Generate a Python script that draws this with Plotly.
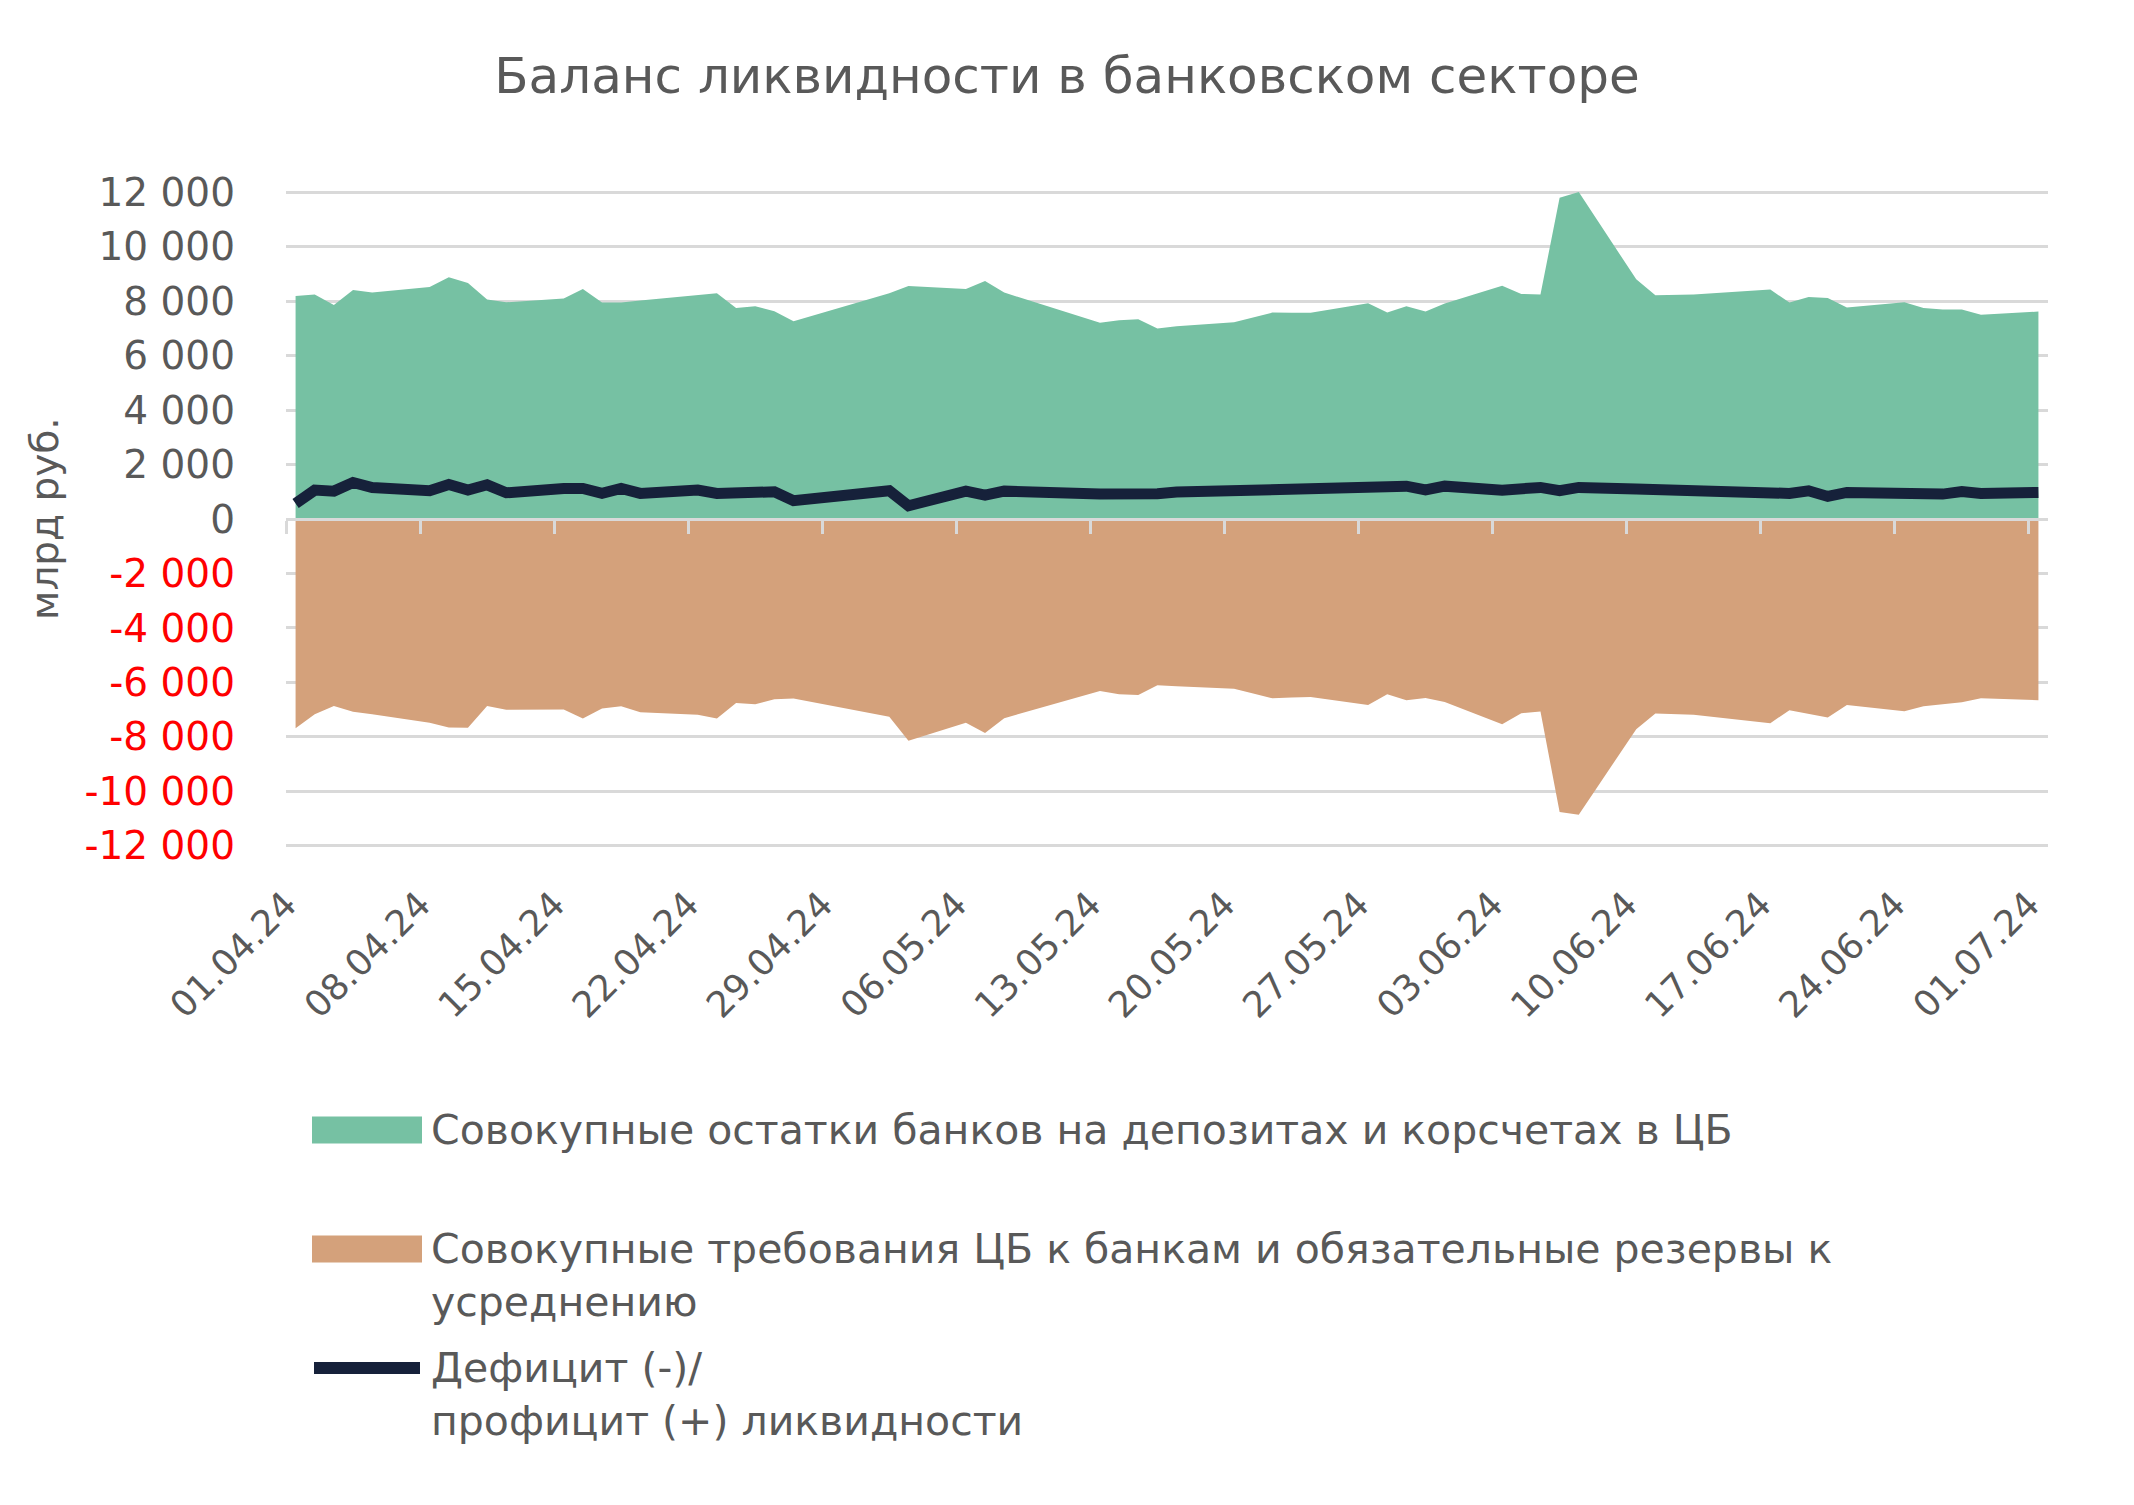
import pandas as pd
import plotly.graph_objects as go

# business days (27.04 was a working Saturday)
dates = [
    "2024-04-01", "2024-04-02", "2024-04-03", "2024-04-04", "2024-04-05",
    "2024-04-08", "2024-04-09", "2024-04-10", "2024-04-11", "2024-04-12",
    "2024-04-15", "2024-04-16", "2024-04-17", "2024-04-18", "2024-04-19",
    "2024-04-22", "2024-04-23", "2024-04-24", "2024-04-25", "2024-04-26", "2024-04-27",
    "2024-05-02", "2024-05-03", "2024-05-06", "2024-05-07", "2024-05-08",
    "2024-05-13", "2024-05-14", "2024-05-15", "2024-05-16", "2024-05-17",
    "2024-05-20", "2024-05-21", "2024-05-22", "2024-05-23", "2024-05-24",
    "2024-05-27", "2024-05-28", "2024-05-29", "2024-05-30", "2024-05-31",
    "2024-06-03", "2024-06-04", "2024-06-05", "2024-06-06", "2024-06-07",
    "2024-06-10", "2024-06-11", "2024-06-13", "2024-06-14",
    "2024-06-17", "2024-06-18", "2024-06-19", "2024-06-20", "2024-06-21",
    "2024-06-24", "2024-06-25", "2024-06-26", "2024-06-27", "2024-06-28",
    "2024-07-01",
]

# Совокупные остатки банков на депозитах и корсчетах в ЦБ, млрд руб.
balances = [
    8195, 8244, 7866, 8415, 8317,
    8524, 8878, 8671, 8061, 7963,
    8098, 8451, 7951, 7951, 8024,
    8220, 8293, 7756, 7817, 7634, 7268,
    8293, 8561, 8451, 8744, 8317,
    7207, 7305, 7341, 7000, 7085,
    7232, 7400, 7585, 7580, 7573,
    7927, 7585, 7817, 7622, 7915,
    8573, 8268, 8244, 11805, 12012,
    8805, 8220, 8244, 8290,
    8427, 7951, 8159, 8122, 7768,
    7963, 7756, 7695, 7695, 7500,
    7622,
]

# Совокупные требования ЦБ к банкам и обязательные резервы к усреднению
claims = [
    -7683, -7171, -6866, -7085, -7171,
    -7488, -7659, -7671, -6866, -7012,
    -7000, -7329, -6963, -6878, -7098,
    -7195, -7329, -6756, -6805, -6622, -6598,
    -7268, -8146, -7488, -7866, -7317,
    -6317, -6439, -6463, -6110, -6140,
    -6232, -6409, -6585, -6561, -6537,
    -6829, -6439, -6659, -6573, -6720,
    -7537, -7134, -7073, -10768, -10866,
    -7720, -7146, -7195, -7268,
    -7500, -7024, -7159, -7293, -6829,
    -7061, -6878, -6805, -6732, -6585,
    -6659,
]

# Дефицит (-)/профицит (+) ликвидности
surplus = [
    573, 1061, 1024, 1341, 1159,
    1037, 1268, 1061, 1256, 963,
    1122, 1122, 939, 1122, 939,
    1061, 939, 960, 1000, 1000, 671,
    1037, 488, 1024, 878, 1024,
    915, 890, 915, 927, 988,
    1024, 1024, 1049, 1061, 1061,
    1098, 1183, 1207, 1073, 1207,
    1061, 1146, 1159, 1037, 1159,
    1098, 1085, 1073, 1049,
    939, 939, 1037, 829, 976,
    951, 915, 915, 1012, 939,
    976,
]

x_tick_labels = ["01.04.24", "08.04.24", "15.04.24", "22.04.24", "29.04.24", "06.05.24", "13.05.24",
                 "20.05.24", "27.05.24", "03.06.24", "10.06.24", "17.06.24", "24.06.24", "01.07.24"]
y_ticks = list(range(-12000, 12001, 2000))

series_names = [
    "Совокупные остатки банков на депозитах и корсчетах в ЦБ",
    "Совокупные требования ЦБ к банкам и обязательные резервы к<br>усреднению",
    "Дефицит (-)/<br>профицит (+) ликвидности",
]

GREEN = "#76C1A3"
BROWN = "#D4A17B"
NAVY = "#16213A"
GRID = "#D9D9D9"
TEXT = "#595959"
FONT = "DejaVu Sans"

# page geometry (the page body adds an 8px margin around the plot div)
PAGE_W, PAGE_H, OFF = 2134, 1505, 8
W, H = PAGE_W - 2 * OFF, PAGE_H - 2 * OFF
L, R, T, B = 286, 2048, 191, 847


def px_x(p):
    return (p - L) / (R - L)


def px_y(p):
    return (B - p) / (B - T)


x = pd.to_datetime(dates)
# excel date axis: ticks sit between day slots, so shift by half a day
tick_vals = pd.to_datetime(x_tick_labels, format="%d.%m.%y") - pd.Timedelta(hours=12)
x_range = [x[0] - pd.Timedelta(hours=12), x[-1] + pd.Timedelta(hours=12)]


def fmt(v):
    s = f"{v:,}".replace(",", " ")
    if v < 0:
        return f'<span style="color:#FF0000">{s}</span>'
    return s


fig = go.Figure()
fig.add_trace(go.Scatter(x=x, y=balances, mode="lines", fill="tozeroy", fillcolor=GREEN,
                         line=dict(width=0, color=GREEN), name=series_names[0], showlegend=False))
fig.add_trace(go.Scatter(x=x, y=claims, mode="lines", fill="tozeroy", fillcolor=BROWN,
                         line=dict(width=0, color=BROWN), name=series_names[1], showlegend=False))
fig.add_trace(go.Scatter(x=x, y=surplus, mode="lines", line=dict(width=11, color=NAVY),
                         name=series_names[2], showlegend=False))
# carrier for the axis drawn at zero
fig.add_trace(go.Scatter(x=x, y=surplus, mode="lines", line=dict(width=0), xaxis="x2",
                         hoverinfo="skip", showlegend=False, opacity=0))

fig.update_layout(
    width=W, height=H,
    margin=dict(l=L - OFF, r=PAGE_W - OFF - R, t=T - OFF, b=PAGE_H - OFF - B),
    plot_bgcolor="white", paper_bgcolor="white",
    font=dict(family=FONT, color=TEXT, size=38),
    title=dict(text="Баланс ликвидности в банковском секторе", x=(1067 - OFF) / W, xanchor="center",
               y=1 - (75 - OFF) / H, yanchor="middle", font=dict(size=50, color=TEXT, family=FONT)),
    xaxis=dict(type="date", range=x_range, tickvals=tick_vals, ticktext=x_tick_labels,
               tickangle=-45, showgrid=False, zeroline=False, showline=False, ticks="",
               ticklabelstandoff=28, tickfont=dict(size=36, color=TEXT)),
    xaxis2=dict(type="date", matches="x", overlaying="x", anchor="free", position=0.5, side="bottom",
                tickvals=tick_vals, ticks="outside", ticklen=13, tickwidth=3, tickcolor=GRID,
                showline=True, linecolor=GRID, linewidth=3, showticklabels=False,
                showgrid=False, zeroline=False),
    yaxis=dict(range=[-12050, 12050], tickvals=y_ticks, ticktext=[fmt(v) for v in y_ticks],
               showgrid=True, gridcolor=GRID, gridwidth=3, zeroline=False, showline=False,
               ticks="", ticklabelstandoff=50, tickfont=dict(size=39, color=TEXT)),
    hovermode=False,
)

fig.add_annotation(text="млрд руб.", xref="paper", yref="paper", x=px_x(44), y=0.5,
                   textangle=-90, showarrow=False, xanchor="center", yanchor="middle",
                   font=dict(size=39, color=TEXT, family=FONT))

# legend drawn by hand to get the wide swatches of the original
sw_x0, sw_x1, txt_x = 312, 422, 429
legend_rows = [1130, 1249, 1368]
for i, (name, yc) in enumerate(zip(series_names, legend_rows)):
    if i < 2:
        fig.add_shape(type="rect", xref="paper", yref="paper",
                      x0=px_x(sw_x0), x1=px_x(sw_x1), y0=px_y(yc - 13.5), y1=px_y(yc + 13.5),
                      fillcolor=[GREEN, BROWN][i], line=dict(width=0))
    else:
        fig.add_shape(type="line", xref="paper", yref="paper",
                      x0=px_x(sw_x0 + 2), x1=px_x(sw_x1 - 2), y0=px_y(yc), y1=px_y(yc),
                      line=dict(color=NAVY, width=12))
    fig.add_annotation(text=name, xref="paper", yref="paper", x=px_x(txt_x), y=px_y(yc - 26),
                       xanchor="left", yanchor="top", align="left", showarrow=False,
                       font=dict(size=41, color=TEXT, family=FONT))

fig.write_html("out.html")
